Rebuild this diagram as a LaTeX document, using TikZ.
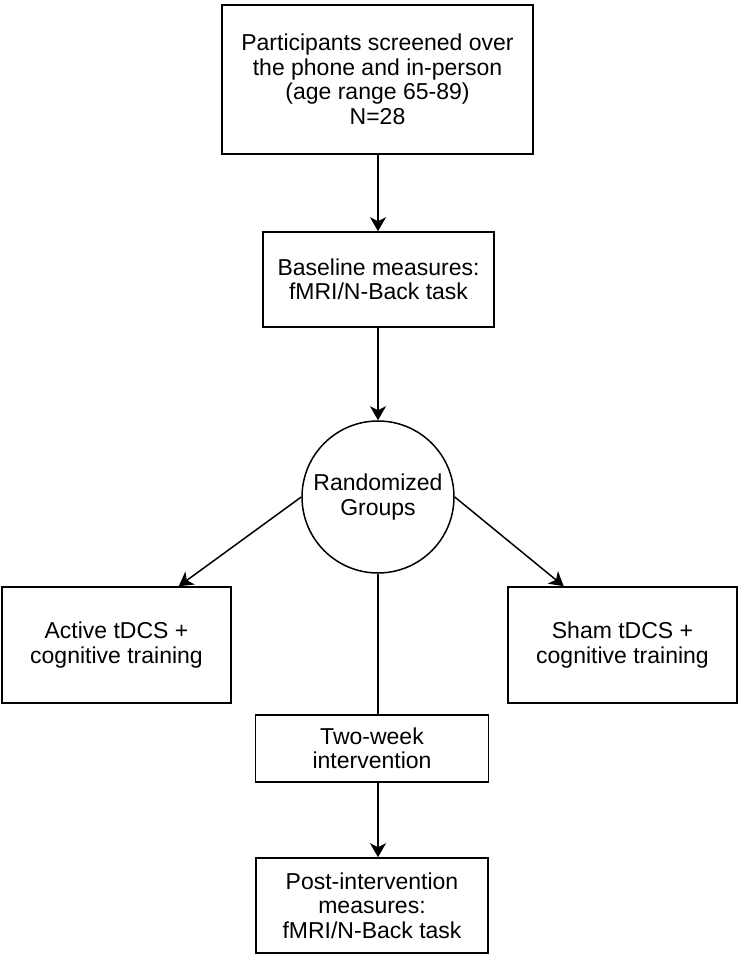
\documentclass[tikz,border=0pt]{standalone}
\usepackage{fontspec}
\setmainfont{Liberation Sans}
\usetikzlibrary{arrows.meta}
\usetikzlibrary{calc}

\tikzset{
  flowbox/.style={draw, black, line width=1.5pt, align=center, inner sep=0pt, font=\fontsize{23}{24.5}\selectfont},
  flowarrow/.style={black, line width=1.5pt, -{Stealth[length=14pt, width=16pt, inset=4pt]}},
  flowline/.style={black, line width=1.5pt},
}

\begin{document}
\begin{tikzpicture}[x=1pt, y=1pt]

\useasboundingbox (0,0) rectangle (739,959);

% screening and baseline
\node[flowbox, minimum width=311pt, minimum height=149pt] (screen) at (377.5, 879.5)
  {Participants screened over\\the phone and in-person\\(age range 65-89)\\N=28};

\node[flowbox, minimum width=231pt, minimum height=95pt] (baseline) at (378.5, 679.5)
  {Baseline measures:\\fMRI/N-Back task};

\node[flowbox, circle, minimum size=152pt] (random) at (378, 462)
  {Randomized\\Groups};

% the two arms
\node[flowbox, minimum width=229pt, minimum height=116pt] (active) at (116.5, 314)
  {Active tDCS +\\cognitive training};

\node[flowbox, minimum width=229pt, minimum height=116pt] (sham) at (622.5, 314)
  {Sham tDCS +\\cognitive training};

% intervention and follow-up
\node[flowbox, minimum width=233pt, minimum height=67pt] (twoweek) at (372, 210.5)
  {Two-week\\intervention};

\node[flowbox, minimum width=232pt, minimum height=95pt] (post) at (372, 53.5)
  {Post-intervention\\measures:\\fMRI/N-Back task};

\draw[flowarrow] (screen.south -| random) -- (baseline.north -| random);
\draw[flowarrow] (baseline.south -| random) -- (random.north);

\draw[flowarrow] (random.west) -- ($(active.north west)!0.77!(active.north east)$);
\draw[flowarrow] (random.east) -- ($(sham.north west)!0.245!(sham.north east)$);

\draw[flowline] (random.south) -- (twoweek.north -| random);
\draw[flowarrow] (twoweek.south -| random) -- (post.north -| random);

\end{tikzpicture}
\end{document}
